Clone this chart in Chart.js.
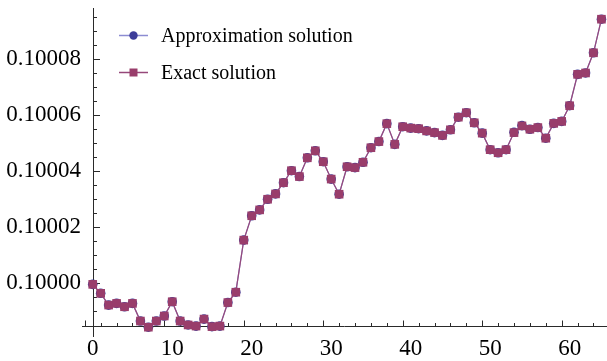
<!DOCTYPE html>
<html><head><meta charset="utf-8">
<script src="https://cdn.jsdelivr.net/npm/chart.js@4.4.0/dist/chart.umd.min.js"></script>
<style>html,body{margin:0;padding:0;background:#fff;overflow:hidden}#wrap{width:607px;height:361px;position:relative}</style>
</head><body><div id="wrap"><canvas id="c" width="607" height="361"></canvas></div>
<script>
const xValues = [0,1,2,3,4,5,6,7,8,9,10,11,12,13,14,15,16,17,18,19,20,21,22,23,24,25,26,27,28,29,30,31,32,33,34,35,36,37,38,39,40,41,42,43,44,45,46,47,48,49,50,51,52,53,54,55,56,57,58,59,60,61,62,63,64];
const exactValues = [
0.0999994,0.0999962,0.0999920,0.0999926,0.0999914,0.0999926,0.0999863,0.0999841,0.0999863,0.0999881,
0.0999932,0.0999863,0.0999849,0.0999845,0.0999870,0.0999843,0.0999845,0.0999929,0.0999966,0.1000152,
0.1000239,0.1000260,0.1000298,0.1000317,0.1000357,0.1000400,0.1000379,0.1000446,0.1000471,0.1000432,
0.1000370,0.1000316,0.1000414,0.1000411,0.1000430,0.1000482,0.1000504,0.1000568,0.1000494,0.1000557,
0.1000552,0.1000550,0.1000542,0.1000536,0.1000526,0.1000546,0.1000591,0.1000607,0.1000571,0.1000534,
0.1000475,0.1000464,0.1000475,0.1000536,0.1000560,0.1000548,0.1000554,0.1000516,0.1000569,0.1000576,
0.1000632,0.1000744,0.1000749,0.1000821,0.1000941];
const approxValues = [
0.0999994,0.0999962,0.0999920,0.0999926,0.0999914,0.0999926,0.0999863,0.0999841,0.0999863,0.0999881,
0.0999932,0.0999863,0.0999849,0.0999845,0.0999870,0.0999843,0.0999845,0.0999929,0.0999966,0.1000152,
0.1000239,0.1000260,0.1000298,0.1000317,0.1000357,0.1000400,0.1000379,0.1000446,0.1000471,0.1000432,
0.1000370,0.1000316,0.1000414,0.1000411,0.1000430,0.1000482,0.1000504,0.1000568,0.1000494,0.1000557,
0.1000552,0.1000550,0.1000542,0.1000536,0.1000526,0.1000546,0.1000591,0.1000607,0.1000571,0.1000534,
0.1000475,0.1000464,0.1000475,0.1000537,0.1000561,0.1000548,0.1000554,0.1000516,0.1000569,0.1000576,
0.1000632,0.1000744,0.1000749,0.1000821,0.1000941];
const seriesNames = ['Approximation solution','Exact solution'];
const xTickValues = [0,10,20,30,40,50,60];
const xTickLabels = ['0','10','20','30','40','50','60'];
const yTickValues = [0.1,0.10002,0.10004,0.10006,0.10008];
const yTickLabels = ['0.10000','0.10002','0.10004','0.10006','0.10008'];

const SERIF = '"Liberation Serif", "Times New Roman", serif';
const AXIS_COLOR = '#2a2a2a';
const X_AXIS_AT = 0.0999846;
const BLUE = '#3d3d99', BLUE_LINE = '#8c8cd2';
const PURPLE = '#993d6b', PURPLE_LINE = '#96487a';

const axesPlugin = {
  id: 'axes',
  beforeDatasetsDraw(chart) {
    const {ctx, chartArea: a} = chart;
    const xs = chart.scales.x, ys = chart.scales.y;
    const x0 = Math.round(xs.getPixelForValue(0)) + 0.5;
    const yA = Math.round(ys.getPixelForValue(X_AXIS_AT)) + 0.5;
    ctx.save();
    ctx.strokeStyle = AXIS_COLOR; ctx.lineWidth = 1;
    ctx.beginPath();
    ctx.moveTo(a.left, yA); ctx.lineTo(a.right, yA);
    ctx.moveTo(x0, a.top); ctx.lineTo(x0, a.bottom);
    for (let v = -1; v <= 64; v += 2) {
      const px = Math.round(xs.getPixelForValue(v)) + 0.5;
      if (px < a.left || px > a.right) continue;
      const major = ((v + 1) % 10 === 0);
      ctx.moveTo(px, yA); ctx.lineTo(px, yA - (major ? 6 : 3.5));
    }
    for (let k = -2; k <= 19; k++) {
      const v = 0.1 + k * 0.000005;
      const py = Math.round(ys.getPixelForValue(v)) + 0.5;
      if (py < a.top || py > yA - 2) continue;
      const major = (k % 4 === 0);
      ctx.moveTo(x0, py); ctx.lineTo(x0 + (major ? 6.5 : 3.5), py);
    }
    ctx.stroke();
    ctx.restore();
  }
};

const legendPlugin = {
  id: 'customLegend',
  afterDraw(chart) {
    const ctx = chart.ctx;
    ctx.save();
    const rows = [
      {y: 35, line: BLUE_LINE, color: BLUE, shape: 'circle', text: seriesNames[0]},
      {y: 72, line: PURPLE_LINE, color: PURPLE, shape: 'rect', text: seriesNames[1]}
    ];
    rows.forEach(r => {
      ctx.strokeStyle = r.line; ctx.lineWidth = 1.5;
      ctx.beginPath(); ctx.moveTo(119, r.y + 0.5); ctx.lineTo(148, r.y + 0.5); ctx.stroke();
      ctx.fillStyle = r.color;
      ctx.beginPath();
      if (r.shape === 'circle') ctx.arc(133.5, r.y + 0.5, 4.2, 0, Math.PI * 2);
      else ctx.rect(129.5, r.y - 3.5, 8, 8);
      ctx.fill();
      ctx.fillStyle = '#000';
      ctx.font = '20px ' + SERIF;
      ctx.textBaseline = 'alphabetic';
      ctx.fillText(r.text, 161, r.y + 6.5);
    });
    ctx.restore();
  }
};

new Chart(document.getElementById('c').getContext('2d'), {
  type: 'line',
  data: {
    datasets: [
      {label: seriesNames[0], data: xValues.map((x, i) => ({x, y: approxValues[i]})),
       borderColor: BLUE_LINE, borderWidth: 1.2, pointStyle: 'circle', pointRadius: 4.8,
       pointBackgroundColor: BLUE, pointBorderWidth: 0, pointHoverRadius: 4.8, order: 2, tension: 0, clip: false},
      {label: seriesNames[1], data: xValues.map((x, i) => ({x, y: exactValues[i]})),
       borderColor: PURPLE_LINE, borderWidth: 1.2, pointStyle: 'rect', pointRadius: 6.1,
       pointBackgroundColor: PURPLE, pointBorderWidth: 0, pointHoverRadius: 6.1, order: 1, tension: 0, clip: false}
    ]
  },
  options: {
    responsive: false, animation: false, devicePixelRatio: 1,
    layout: {autoPadding: false, padding: {top: 8, right: 0, left: 0, bottom: 0}},
    plugins: {legend: {display: false}, tooltip: {enabled: false}},
    events: [],
    scales: {
      x: {type: 'linear', min: -1.35, max: 64.7,
        grid: {display: false, drawTicks: false}, border: {display: false},
        afterBuildTicks: s => { s.ticks = xTickValues.map(v => ({value: v})); },
        afterFit: s => { s.height = 24; s.paddingLeft = 0; s.paddingRight = 0; s.paddingTop = 0; s.paddingBottom = 0; },
        ticks: {callback: v => xTickLabels[xTickValues.indexOf(v)], font: {family: SERIF, size: 23},
          color: '#000', padding: -2, maxRotation: 0, autoSkip: false}},
      y: {type: 'linear', min: 0.0999806, max: 0.1000981,
        grid: {display: false, drawTicks: false}, border: {display: false},
        afterBuildTicks: s => { s.ticks = yTickValues.map(v => ({value: v})); },
        afterFit: s => { s.width = 82; s.paddingTop = 0; s.paddingBottom = 0; s.paddingLeft = 0; s.paddingRight = 0; },
        ticks: {callback: v => { const i = yTickValues.findIndex(t => Math.abs(t - v) < 1e-9); return yTickLabels[i]; },
          font: {family: SERIF, size: 23}, color: '#000', padding: 1, autoSkip: false}}
    }
  },
  plugins: [axesPlugin, legendPlugin]
});
</script></body></html>
